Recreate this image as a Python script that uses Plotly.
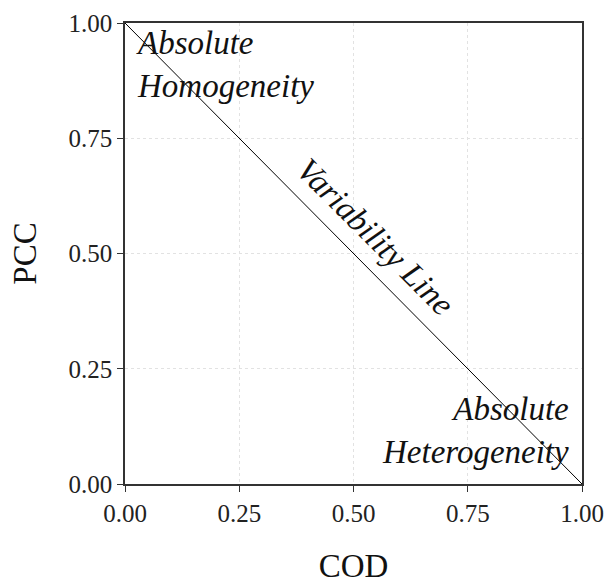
import plotly.graph_objects as go

line_x = [0.0, 1.0]
line_y = [1.0, 0.0]
tick_vals = [0.0, 0.25, 0.5, 0.75, 1.0]
tick_text = ["0.00", "0.25", "0.50", "0.75", "1.00"]

FONT = "Liberation Serif"

fig = go.Figure()
fig.add_trace(go.Scatter(x=line_x, y=line_y, mode="lines",
                         line=dict(color="black", width=1), showlegend=False,
                         hoverinfo="skip"))

axis_common = dict(
    range=[0, 1], tickvals=tick_vals, ticktext=tick_text,
    showline=True, linecolor="#333", linewidth=1.5, mirror=True,
    ticks="outside", ticklen=6, tickcolor="#333",
    showgrid=True, gridcolor="#e2e2e2", griddash="dot", gridwidth=1,
    zeroline=False, tickfont=dict(family=FONT, size=25, color="#222"),
    automargin=False,
)

fig.update_layout(
    width=607, height=584,
    margin=dict(l=125, r=25, t=23, b=100),
    paper_bgcolor="white", plot_bgcolor="white",
    xaxis=dict(**axis_common, title=dict(text="COD", font=dict(family=FONT, size=33, color="#111"), standoff=32)),
    yaxis=dict(**axis_common, title=dict(text="PCC", font=dict(family=FONT, size=33, color="#111"), standoff=22)),
    font=dict(family=FONT),
)

ann_font = dict(family=FONT, size=33, color="#111")
fig.add_annotation(x=0.02, y=1.0, xref="x", yref="y", xanchor="left", yanchor="top",
                   text="<i>Absolute</i><br><i>Homogeneity</i>", showarrow=False,
                   align="left", font=ann_font)
fig.add_annotation(x=0.975, y=0.025, xref="x", yref="y", xanchor="right", yanchor="bottom",
                   text="<i>Absolute</i><br><i>Heterogeneity</i>", showarrow=False,
                   align="right", font=ann_font)
fig.add_annotation(x=0.548, y=0.535, xref="x", yref="y", xanchor="center", yanchor="middle",
                   text="<i>Variability Line</i>", showarrow=False, textangle=45,
                   font=ann_font)

fig.write_html("out.html")
